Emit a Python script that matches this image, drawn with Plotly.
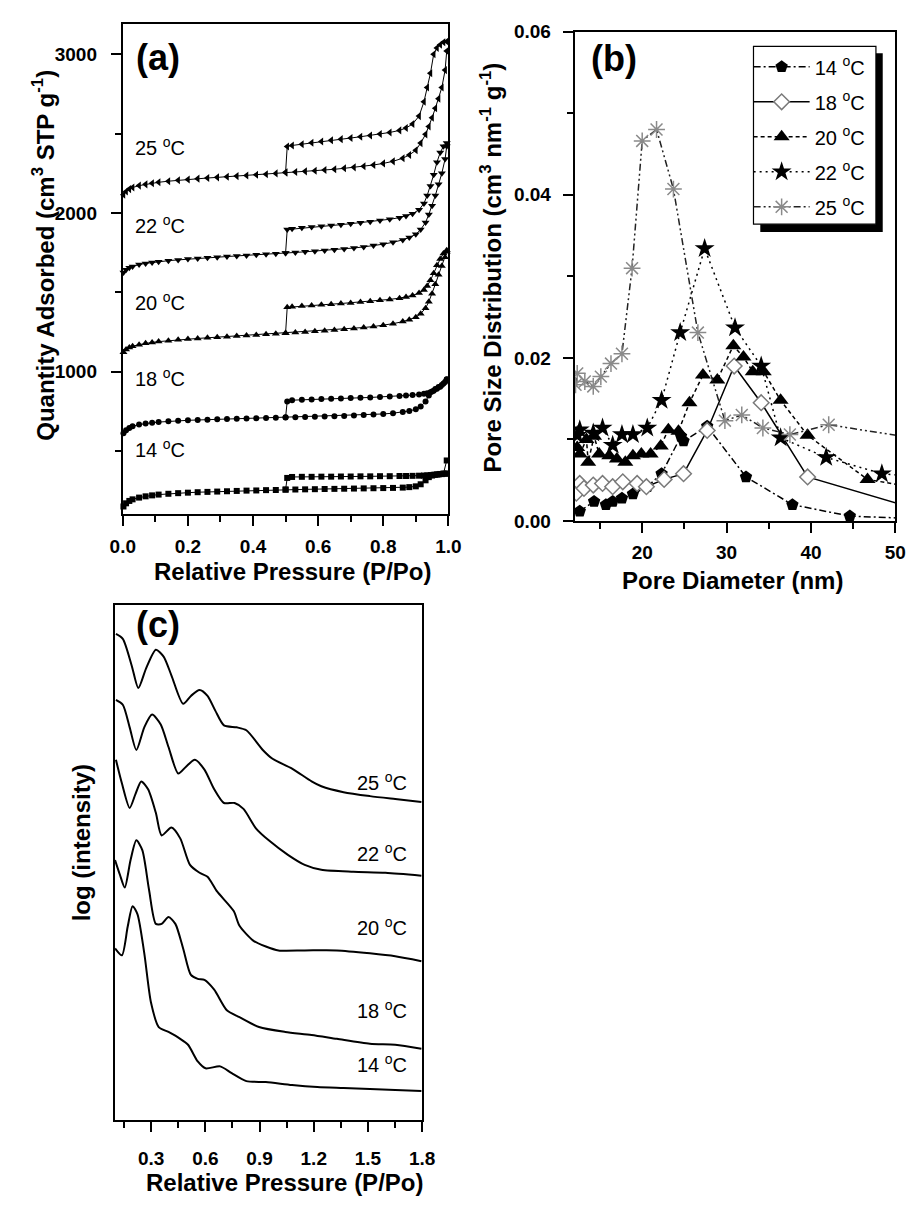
import plotly.graph_objects as go

W, H = 921, 1211
FONT = "Liberation Sans, Arial, sans-serif"

# ---------------- (a) nitrogen sorption isotherms ----------------
p_ads = [0.002, 0.01, 0.02, 0.03, 0.05, 0.07, 0.09, 0.11, 0.14, 0.17, 0.20, 0.23,
         0.26, 0.29, 0.32, 0.35, 0.38, 0.41, 0.44, 0.47, 0.50, 0.53, 0.56, 0.59,
         0.62, 0.65, 0.68, 0.71, 0.74, 0.77, 0.80, 0.83, 0.86, 0.88, 0.90, 0.915,
         0.93, 0.94, 0.95, 0.96, 0.97, 0.98, 0.99, 0.995]
p_des = [0.995, 0.985, 0.975, 0.965, 0.955, 0.945, 0.935, 0.925, 0.91, 0.89, 0.87,
         0.85, 0.82, 0.79, 0.76, 0.73, 0.70, 0.67, 0.64, 0.61, 0.58, 0.55, 0.52,
         0.505, 0.50]

q25_ads = [2115, 2135, 2150, 2160, 2172, 2180, 2187, 2193, 2200, 2206, 2211, 2216,
           2220, 2224, 2228, 2232, 2236, 2240, 2244, 2249, 2254, 2258, 2262, 2266,
           2270, 2275, 2281, 2287, 2294, 2302, 2312, 2325, 2345, 2365, 2395, 2440,
           2495, 2545, 2600, 2660, 2720, 2790, 2900, 3020]
q25_des = [3080, 3075, 3060, 3040, 3000, 2880, 2790, 2700, 2610, 2560, 2535, 2520,
           2507, 2497, 2488, 2480, 2472, 2465, 2458, 2450, 2442, 2433, 2425, 2418, 2256]
q22_ads = [1625, 1642, 1655, 1663, 1675, 1682, 1688, 1693, 1699, 1704, 1709, 1713,
           1717, 1721, 1725, 1729, 1732, 1736, 1740, 1743, 1747, 1751, 1755, 1759,
           1763, 1768, 1773, 1779, 1786, 1794, 1803, 1815, 1830, 1845, 1865, 1895,
           1940, 1990, 2045, 2110, 2180, 2250, 2340, 2420]
q22_des = [2440, 2420, 2380, 2320, 2240, 2170, 2110, 2060, 2020, 1995, 1980, 1970,
           1960, 1952, 1945, 1938, 1932, 1926, 1921, 1916, 1911, 1906, 1900, 1895, 1748]
q20_ads = [1122, 1140, 1152, 1160, 1170, 1178, 1184, 1189, 1195, 1200, 1205, 1209,
           1213, 1217, 1220, 1224, 1228, 1231, 1235, 1238, 1242, 1246, 1250, 1254,
           1258, 1262, 1267, 1272, 1278, 1284, 1292, 1302, 1315, 1327, 1342, 1365,
           1400, 1440, 1490, 1550, 1610, 1665, 1720, 1755]
q20_des = [1765, 1745, 1710, 1670, 1620, 1575, 1540, 1515, 1495, 1480, 1470, 1463,
           1455, 1449, 1443, 1438, 1433, 1429, 1425, 1421, 1417, 1413, 1409, 1405, 1243]
q18_ads = [612, 630, 645, 655, 666, 673, 678, 682, 687, 690, 693, 695, 697, 699, 701,
           703, 705, 706, 708, 709, 711, 712, 714, 715, 717, 719, 721, 723, 726, 729,
           733, 738, 745, 752, 762, 780, 812, 850, 875, 890, 903, 916, 935, 950]
q18_des = [952, 925, 905, 892, 880, 870, 864, 860, 856, 852, 849, 846, 843, 840, 837,
           835, 833, 831, 829, 827, 825, 823, 820, 812, 712]
q14_ads = [150, 170, 185, 195, 206, 214, 220, 225, 230, 234, 237, 240, 242, 244, 246,
           248, 250, 251, 253, 254, 256, 257, 258, 259, 260, 261, 262, 263, 264, 265,
           266, 267, 269, 272, 277, 290, 315, 335, 345, 350, 352, 354, 356, 358]
q14_des = [440, 358, 355, 352, 350, 348, 346, 345, 344, 343, 342, 342, 341, 341, 340,
           340, 339, 339, 338, 338, 337, 337, 336, 330, 257]

iso_temps = ["14", "18", "20", "22", "25"]
iso_ads = [q14_ads, q18_ads, q20_ads, q22_ads, q25_ads]
iso_des = [q14_des, q18_des, q20_des, q22_des, q25_des]
iso_symbols = ["square", "circle", "triangle-up", "triangle-down", "triangle-left"]
iso_sizes = [6, 6, 7, 7, 7]

# ---------------- (b) pore size distributions ----------------
d14 = [12.6, 14.3, 15.7, 16.5, 17.6, 18.9, 20.6, 22.3, 24.6, 24.9, 27.7, 32.3, 37.8, 44.6, 52.0]
v14 = [0.0012, 0.0024, 0.0020, 0.0024, 0.0028, 0.0033, 0.0042, 0.0058, 0.0104, 0.0098,
       0.0116, 0.0054, 0.0020, 0.0006, 0.0003]
d18 = [12.2, 12.6, 13.1, 14.2, 15.3, 16.5, 17.7, 19.4, 20.5, 22.6, 24.9, 27.7, 30.9, 34.1, 39.6, 55.0]
v18 = [0.0034, 0.0046, 0.0040, 0.0044, 0.0046, 0.0042, 0.0048, 0.0046, 0.0042, 0.0051,
       0.0058, 0.0111, 0.0190, 0.0145, 0.0054, 0.0007]
d20 = [12.3, 12.6, 13.4, 13.6, 14.3, 14.9, 16.1, 17.0, 18.0, 18.9, 19.9, 21.0, 22.2,
       23.1, 24.3, 25.6, 27.2, 28.9, 30.8, 32.0, 33.1, 34.4, 36.4, 39.6, 46.7, 55.0]
v20 = [0.0090, 0.0082, 0.0100, 0.0072, 0.0104, 0.0082, 0.0080, 0.0076, 0.0072, 0.0080,
       0.0082, 0.0082, 0.0092, 0.0112, 0.0110, 0.0145, 0.0179, 0.0173, 0.0215, 0.0201,
       0.0183, 0.0183, 0.0148, 0.0105, 0.0051, 0.0036]
d22 = [12.3, 12.6, 14.2, 15.3, 16.5, 17.6, 18.9, 20.6, 22.3, 24.5, 27.4, 31.0, 34.1,
       36.4, 41.8, 48.4, 55.0]
v22 = [0.0105, 0.0112, 0.0108, 0.0114, 0.0093, 0.0106, 0.0106, 0.0114, 0.0148, 0.0231,
       0.0334, 0.0237, 0.0190, 0.0102, 0.0078, 0.0058, 0.0052]
d25 = [12.1, 12.3, 13.2, 14.2, 15.1, 16.3, 17.6, 18.8, 20.0, 21.7, 23.7, 26.6, 29.8,
       31.8, 34.3, 37.5, 42.1, 55.0]
v25 = [0.0167, 0.0181, 0.0171, 0.0165, 0.0177, 0.0193, 0.0205, 0.0310, 0.0466, 0.0480,
       0.0407, 0.0231, 0.0123, 0.0130, 0.0114, 0.0106, 0.0118, 0.0097]

# ---------------- (c) scattering profiles (offset, arbitrary units) ----------------
c25_x = [0.105, 0.143, 0.192, 0.229, 0.272, 0.326, 0.369, 0.412, 0.477, 0.520, 0.568,
         0.612, 0.655, 0.703, 0.773, 0.827, 0.918, 0.972, 1.080, 1.188, 1.242, 1.365,
         1.511, 1.651, 1.796]
c25_y = [495, 490, 463, 440, 460, 479, 472, 453, 424, 432, 438, 432, 417, 402, 400, 397,
         377, 368, 358, 345, 340, 334, 330, 327, 324]
c22_x = [0.105, 0.143, 0.181, 0.218, 0.262, 0.305, 0.353, 0.396, 0.450, 0.493, 0.542,
         0.595, 0.649, 0.703, 0.762, 0.811, 0.881, 0.951, 1.059, 1.150, 1.242, 1.419,
         1.597, 1.796]
c22_y = [428, 423, 400, 377, 400, 413, 403, 380, 353, 360, 367, 357, 337, 323, 323, 317,
         297, 285, 270, 260, 255, 253, 252, 249]
c20_x = [0.105, 0.138, 0.181, 0.213, 0.245, 0.283, 0.326, 0.358, 0.412, 0.461, 0.515,
         0.568, 0.612, 0.665, 0.757, 0.789, 0.865, 0.935, 1.005, 1.150, 1.328, 1.511,
         1.651, 1.796]
c20_y = [367, 343, 318, 332, 345, 337, 313, 290, 298, 287, 260, 252, 248, 233, 213, 198,
         183, 177, 173, 173, 173, 170, 167, 162]
c18_x = [0.100, 0.127, 0.154, 0.186, 0.218, 0.251, 0.288, 0.326, 0.358, 0.396, 0.434,
         0.477, 0.520, 0.558, 0.595, 0.649, 0.719, 0.789, 0.897, 1.042, 1.188, 1.328,
         1.511, 1.651, 1.796]
c18_y = [265, 250, 237, 265, 285, 275, 235, 200, 200, 207, 200, 175, 148, 144, 143, 133,
         112, 105, 95, 90, 87, 83, 78, 77, 73]
c14_x = [0.100, 0.138, 0.170, 0.197, 0.224, 0.262, 0.299, 0.342, 0.396, 0.461, 0.504,
         0.558, 0.601, 0.682, 0.746, 0.827, 0.935, 1.080, 1.220, 1.365, 1.511, 1.651, 1.796]
c14_y = [175, 168, 197, 218, 210, 170, 120, 95, 90, 83, 77, 60, 53, 55, 48, 40, 39, 36,
         34, 33, 32, 31, 30]


def px(x):
    return x / W


def py(y):
    return 1 - y / H


fig = go.Figure()

# (a) adsorption and desorption branches
for t, qa, qd, sym, sz in zip(iso_temps, iso_ads, iso_des, iso_symbols, iso_sizes):
    for pp, qq in ((p_ads, qa), (p_des, qd)):
        fig.add_trace(go.Scatter(
            x=pp, y=qq, xaxis="x", yaxis="y", mode="lines+markers",
            line=dict(color="black", width=1),
            marker=dict(symbol=sym, size=sz, color="black"),
            showlegend=False, cliponaxis=False))

# (b) pore size distributions
psd = [
    ("14", d14, v14, dict(symbol="pentagon", size=13, color="black"),
     dict(color="black", width=1.5, dash="7px,3px,2px,3px")),
    ("18", d18, v18, dict(symbol="diamond", size=12, color="white",
                          line=dict(color="#7a7a7a", width=1.5)),
     dict(color="black", width=1.5, dash="solid")),
    ("20", d20, v20, dict(symbol="triangle-up", size=14, color="black"),
     dict(color="black", width=1.5, dash="4px,3px")),
    ("22", d22, v22, dict(symbol="star", size=15, color="black"),
     dict(color="black", width=1.5, dash="2px,4px")),
    ("25", d25, v25, dict(symbol="asterisk-open", size=14, color="#8a8a8a",
                          line=dict(color="#8a8a8a", width=1.5)),
     dict(color="#222222", width=1.5, dash="7px,3px,2px,3px,2px,3px")),
]
for t, dd, vv, mk, ln in psd:
    fig.add_trace(go.Scatter(
        x=dd, y=vv, xaxis="x2", yaxis="y2", mode="lines+markers",
        name=f"{t} <sup>o</sup>C", legendgroup=t,
        marker=mk, line=ln, showlegend=True))

# (c) scattering curves
for cx, cy in ((c25_x, c25_y), (c22_x, c22_y), (c20_x, c20_y), (c18_x, c18_y), (c14_x, c14_y)):
    fig.add_trace(go.Scatter(
        x=cx, y=cy, xaxis="x3", yaxis="y3", mode="lines",
        line=dict(color="black", width=2, shape="spline", smoothing=0.7),
        showlegend=False))

tick_font = dict(family=FONT, size=19, color="black", weight="bold")
axis_common = dict(showline=True, mirror=True, linecolor="black", linewidth=2,
                   ticks="outside", ticklen=10, tickwidth=2, tickcolor="black",
                   showgrid=False, zeroline=False, tickfont=tick_font)
minor_style = dict(ticks="outside", ticklen=6, tickwidth=2, tickcolor="black")

fig.update_layout(
    width=W, height=H, margin=dict(l=0, r=0, t=0, b=0),
    paper_bgcolor="white", plot_bgcolor="white",
    xaxis=dict(domain=[px(113), px(448)], range=[0, 1], anchor="y", dtick=0.2,
               tickformat=".1f", minor=dict(dtick=0.1, **minor_style),
               ticklabelstandoff=4, **axis_common),
    yaxis=dict(domain=[py(513), py(14)], range=[102, 3192], anchor="x", tick0=0,
               dtick=1000, minor=dict(dtick=500, **minor_style),
               ticklabelstandoff=10, **axis_common),
    xaxis2=dict(domain=[px(578), px(908)], range=[12, 50], anchor="y2",
                tickvals=[20, 30, 40, 50],
                minor=dict(tickvals=[15, 25, 35, 45], **minor_style),
                ticklabelstandoff=3, **axis_common),
    yaxis2=dict(domain=[py(520), py(22)], range=[0, 0.06], anchor="x2", dtick=0.02,
                tickformat=".2f", minor=dict(dtick=0.01, **minor_style),
                ticklabelstandoff=8, **axis_common),
    xaxis3=dict(domain=[px(105), px(421)], range=[0.1, 1.8], anchor="y3", tick0=0,
                dtick=0.3, tickformat=".1f",
                minor=dict(dtick=0.15, **minor_style),
                ticklabelstandoff=10, **axis_common),
    yaxis3=dict(domain=[py(1130), py(605)], range=[0, 525], anchor="x3",
                showline=True, mirror=True, linecolor="black", linewidth=2,
                ticks="", showticklabels=False, showgrid=False, zeroline=False),
    legend=dict(x=px(757), y=py(38), xanchor="left", yanchor="top",
                borderwidth=0, bgcolor="rgba(0,0,0,0)",
                font=dict(family=FONT, size=20, color="black"),
                itemwidth=56, tracegroupgap=6, traceorder="grouped"),
    showlegend=True,
)

# legend frame with its drop shadow
fig.add_shape(type="rect", xref="paper", yref="paper",
              x0=px(769), x1=px(895), y0=py(226), y1=py(44),
              fillcolor="black", line=dict(width=0), layer="above")
fig.add_shape(type="rect", xref="paper", yref="paper",
              x0=px(762), x1=px(888), y0=py(218), y1=py(37),
              fillcolor="white", line=dict(color="black", width=1.2), layer="above")

title_font = dict(family=FONT, size=24, color="black", weight="bold")
label_font = dict(family=FONT, size=20, color="black")
panel_font = dict(family=FONT, size=36, color="black", weight="bold")


def note(text, x, y, font, angle=0, xanchor="center"):
    fig.add_annotation(text=text, x=px(x), y=py(y), xref="paper", yref="paper",
                       showarrow=False, font=font, textangle=angle,
                       xanchor=xanchor, yanchor="middle")


# panel letters
note("(a)", 125, 48, panel_font, xanchor="left")
note("(b)", 593, 49, panel_font, xanchor="left")
note("(c)", 125, 625, panel_font, xanchor="left")

# axis titles
note("Quantity Adsorbed (cm<sup>3</sup> STP g<sup>-1</sup>)", 31, 250, title_font, angle=-90)
note("Relative Pressure (P/Po)", 288, 571, title_font)
note("Pore Size Distribution (cm<sup>3</sup> nm<sup>-1</sup> g<sup>-1</sup>)", 492, 262,
     title_font, angle=-90)
note("Pore Diameter (nm)", 740, 581, title_font)
note("log (intensity)", 70, 848, title_font, angle=-90)
note("Relative Pressure (P/Po)", 279, 1193, title_font)

# temperature labels, panel (a)
for t, yy in zip(["25", "22", "20", "18", "14"], [139, 218, 297, 374, 446]):
    note(f"{t} <sup>o</sup>C", 124, yy, label_font, xanchor="left")

# temperature labels, panel (c)
for t, yy in zip(["25", "22", "20", "18", "14"], [785, 857, 933, 1017, 1072]):
    note(f"{t} <sup>o</sup>C", 408, yy, label_font, xanchor="right")

fig.write_html("out.html")
